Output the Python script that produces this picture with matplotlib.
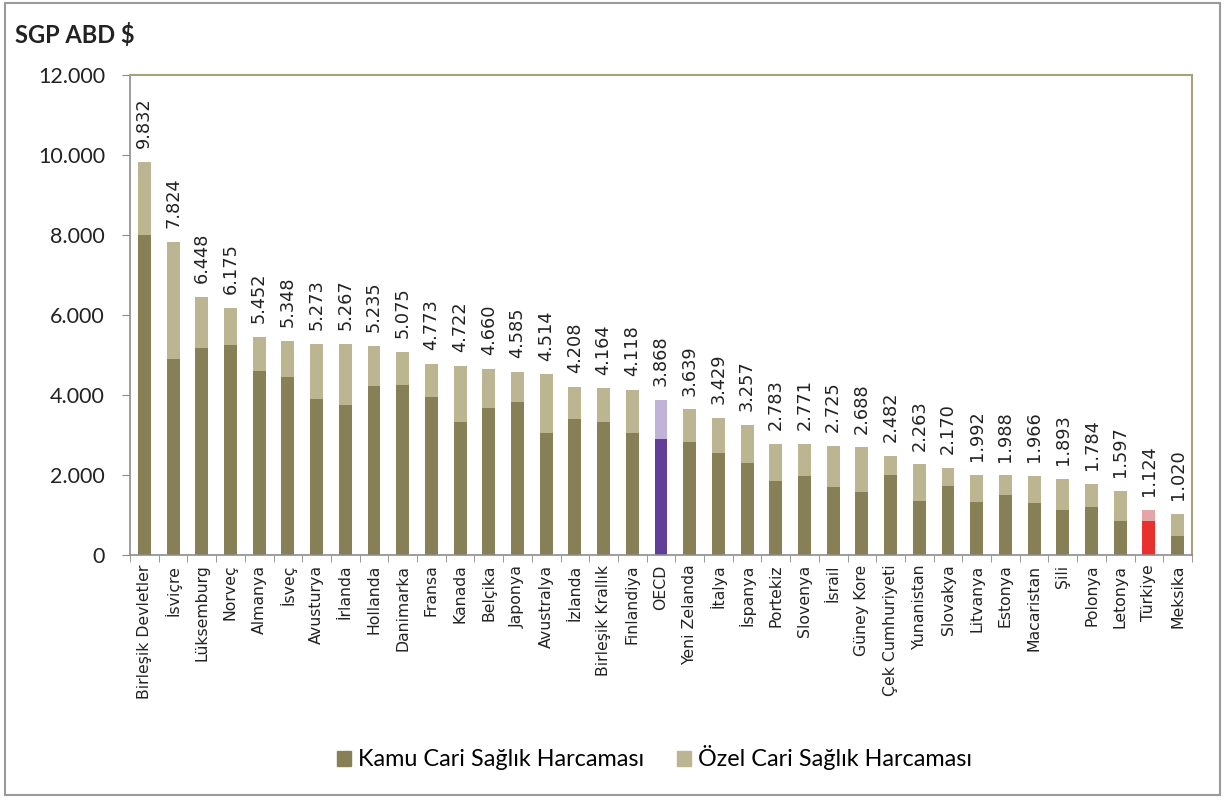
import numpy as np
import matplotlib
matplotlib.use("Agg")
import matplotlib.pyplot as plt
from matplotlib.patches import Patch, Rectangle

# ── Données ──────────────────────────────────────────────────────────────────
COUNTRIES = ["Birleşik Devletler", "İsviçre", "Lüksemburg", "Norveç", "Almanya",
             "İsveç", "Avusturya", "İrlanda", "Hollanda", "Danimarka", "Fransa",
             "Kanada", "Belçika", "Japonya", "Avustralya", "İzlanda",
             "Birleşik Krallık", "Finlandiya", "OECD", "Yeni Zelanda", "İtalya",
             "İspanya", "Portekiz", "Slovenya", "İsrail", "Güney Kore",
             "Çek Cumhuriyeti", "Yunanistan", "Slovakya", "Litvanya", "Estonya",
             "Macaristan", "Şili", "Polonya", "Letonya", "Türkiye", "Meksika"]

TOTAL = [9832, 7824, 6448, 6175, 5452, 5348, 5273, 5267, 5235, 5075, 4773,
         4722, 4660, 4585, 4514, 4208, 4164, 4118, 3868, 3639, 3429, 3257,
         2783, 2771, 2725, 2688, 2482, 2263, 2170, 1992, 1988, 1966, 1893,
         1784, 1597, 1124, 1020]

PUBLIC = [8000, 4890, 5175, 5250, 4600, 4460, 3890, 3750, 4235, 4250, 3960,
          3330, 3680, 3830, 3040, 3400, 3315, 3040, 2910, 2835, 2540, 2290,
          1850, 1985, 1690, 1565, 2000, 1350, 1725, 1335, 1500, 1290, 1125,
          1210, 850, 850, 485]

LEGEND_LABELS = ["Kamu Cari Sağlık Harcaması", "Özel Cari Sağlık Harcaması"]
Y_TICKS = [0, 2000, 4000, 6000, 8000, 10000, 12000]

# ── Couleurs ─────────────────────────────────────────────────────────────────
C_PUB, C_PRIV = "#878056", "#bbb691"
C_OECD_PUB, C_OECD_PRIV = "#613f99", "#bfb3d7"
C_TR_PUB, C_TR_PRIV = "#e8302e", "#e3a5a5"
FRAME = "#a6a27c"
TXT = "#222222"

private = [t - p for t, p in zip(TOTAL, PUBLIC)]
x = np.arange(len(COUNTRIES))

pub_colors = [C_PUB] * len(x)
priv_colors = [C_PRIV] * len(x)
i_oecd, i_tr = COUNTRIES.index("OECD"), COUNTRIES.index("Türkiye")
pub_colors[i_oecd], priv_colors[i_oecd] = C_OECD_PUB, C_OECD_PRIV
pub_colors[i_tr], priv_colors[i_tr] = C_TR_PUB, C_TR_PRIV

fig = plt.figure(figsize=(12.25, 8), dpi=100)
ax = fig.add_axes([130 / 1225, 245 / 800, 1062 / 1225, 480 / 800])

ax.bar(x, PUBLIC, width=0.45, color=pub_colors, zorder=2)
ax.bar(x, private, width=0.45, bottom=PUBLIC, color=priv_colors, zorder=2)

# étiquettes de valeurs
for xi, t in zip(x, TOTAL):
    ax.annotate(f"{t:,}".replace(",", "."), (xi, t), xytext=(0, 10),
                textcoords="offset points", rotation=90, ha="center", va="bottom",
                fontsize=12.8, color=TXT, family="DejaVu Sans")

ax.set_xlim(-0.5, len(x) - 0.5)
ax.set_ylim(0, 12000)
ax.set_yticks(Y_TICKS)
ax.set_yticklabels([f"{v:,}".replace(",", ".") for v in Y_TICKS],
                   fontsize=15.5, family="Lato", color=TXT)
ax.set_xticks(x)
ax.set_xticklabels(COUNTRIES, rotation=90, fontsize=11.3, family="DejaVu Sans",
                   color=TXT)
ax.set_xticks(np.arange(-0.5, len(x), 1), minor=True)
ax.tick_params(axis="x", which="major", length=0, pad=7)
ax.tick_params(axis="x", which="minor", length=5, color="#888888")
ax.tick_params(axis="y", length=6, color="#888888", pad=12)

for side in ["top", "right"]:
    ax.spines[side].set_color(FRAME)
    ax.spines[side].set_linewidth(1.5)
for side in ["left", "bottom"]:
    ax.spines[side].set_color("#8c8c8c")
    ax.spines[side].set_linewidth(1.2)

fig.text(15 / 1225, 1 - 35 / 800, "SGP ABD $", fontsize=17, fontweight="bold",
         family="Lato", va="center", ha="left", color=TXT)

handles = [Patch(color=C_PUB), Patch(color=C_PRIV)]
fig.legend(handles, LEGEND_LABELS, loc="center", bbox_to_anchor=(0.534, 1 - 758 / 800),
           ncol=2, frameon=False, prop={"family": "Lato", "size": 16.8},
           handlelength=0.6, handleheight=0.6, handletextpad=0.3, columnspacing=1.4)

# cadre extérieur
fig.patches.append(Rectangle((0.004, 0.006), 0.992, 0.99, transform=fig.transFigure,
                             fill=False, edgecolor="#9a9a9a", linewidth=1.5))

fig.savefig("out.png", dpi=100)
